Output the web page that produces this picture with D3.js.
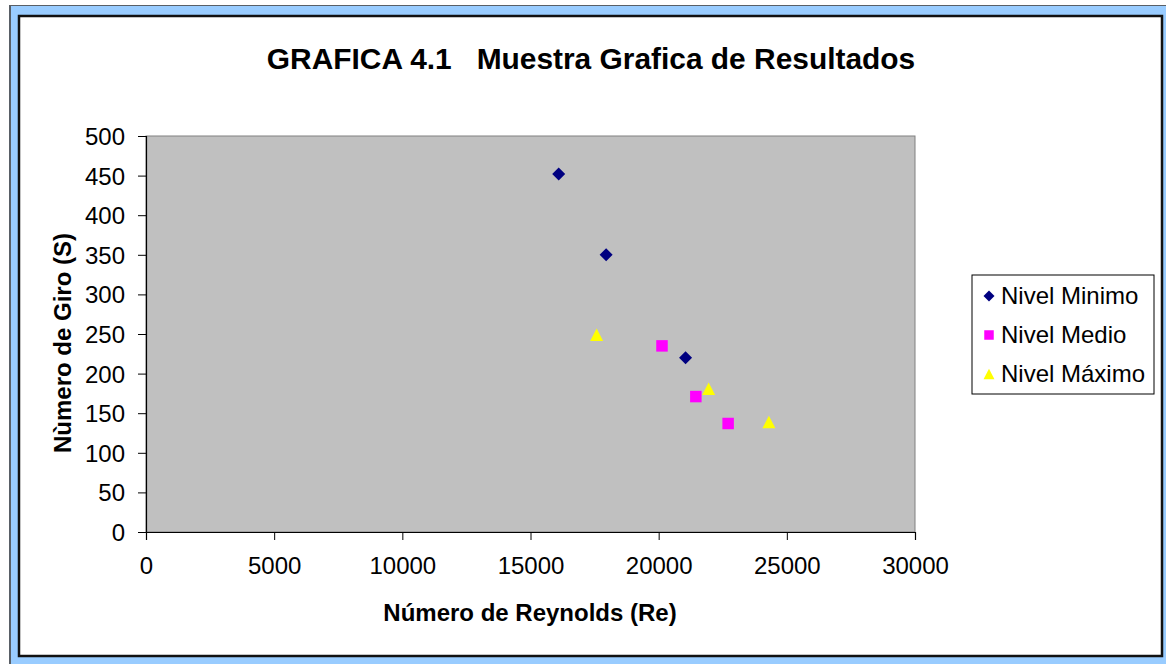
<!DOCTYPE html>
<html><head><meta charset="utf-8">
<script src="https://cdn.jsdelivr.net/npm/d3@7"></script>
<style>body{margin:0;background:#fff}svg{display:block}text{font-family:"Liberation Sans",Arial,sans-serif}</style>
</head><body>
<script>
const seriesNames = ["Nivel Minimo", "Nivel Medio", "Nivel Máximo"];
const minimoX = [16100, 17950, 21050];
const minimoY = [452, 350, 220];
const medioX = [20130, 21450, 22710];
const medioY = [235, 171, 137];
const maximoX = [17580, 21950, 24300];
const maximoY = [249, 181, 139];
const xTicks = [0, 5000, 10000, 15000, 20000, 25000, 30000];
const yTicks = [0, 50, 100, 150, 200, 250, 300, 350, 400, 450, 500];
const colors = ["#000080", "#ff00ff", "#ffff00"];

const W = 1166, H = 664;
const svg = d3.select("body").append("svg").attr("width", W).attr("height", H);

// frame
svg.append("rect").attr("x", 9).attr("y", 5).attr("width", W - 9).attr("height", H - 5).attr("fill", "#595f66");
svg.append("rect").attr("x", 11).attr("y", 6).attr("width", W - 11).attr("height", H - 6).attr("fill", "#99ccff");
svg.append("rect").attr("x", 19).attr("y", 16).attr("width", 1143).attr("height", 640)
  .attr("fill", "#fff").attr("stroke", "#111").attr("stroke-width", 2.5);

const m = {l: 146, t: 136, r: 915, b: 532};
const x = d3.scaleLinear().domain([0, 30000]).range([m.l, m.r]);
const y = d3.scaleLinear().domain([0, 500]).range([m.b, m.t]);

svg.append("rect").attr("x", m.l).attr("y", m.t).attr("width", m.r - m.l).attr("height", m.b - m.t)
  .attr("fill", "#c0c0c0").attr("stroke", "#808080").attr("stroke-width", 1);

const xAxis = svg.append("g").attr("transform", `translate(0,${m.b})`)
  .call(d3.axisBottom(x).tickValues(xTicks).tickSize(8).tickPadding(17).tickFormat(d3.format("d")));
const yAxis = svg.append("g").attr("transform", `translate(${m.l},0)`)
  .call(d3.axisLeft(y).tickValues(yTicks).tickSize(8).tickPadding(13).tickFormat(d3.format("d")));
[xAxis, yAxis].forEach(g => {
  g.select(".domain").attr("stroke", "#000").attr("stroke-width", 1.2);
  g.selectAll(".tick line").attr("stroke", "#000");
  g.selectAll(".tick text").attr("font-size", 24).attr("fill", "#000").attr("font-family", '"Liberation Sans",Arial,sans-serif');
});
yAxis.selectAll(".tick text").attr("dy", "0.35em");

const series = [
  {x: minimoX, y: minimoY},
  {x: medioX, y: medioY},
  {x: maximoX, y: maximoY}
];

function drawMarker(g, i, cx, cy, s) {
  if (i === 0) {
    g.append("path").attr("transform", `translate(${cx},${cy}) rotate(45)`)
      .attr("d", d3.symbol().type(d3.symbolSquare).size(s * s * 0.5)).attr("fill", colors[i]);
  } else if (i === 1) {
    g.append("path").attr("transform", `translate(${cx},${cy})`)
      .attr("d", d3.symbol().type(d3.symbolSquare).size((s - 1.5) * (s - 1.5))).attr("fill", colors[i]);
  } else {
    const h = s - 0.5;
    g.append("path").attr("transform", `translate(${cx},${cy})`)
      .attr("d", `M0,${-h / 2}L${h * 0.52},${h / 2}L${-h * 0.52},${h / 2}Z`).attr("fill", colors[i]);
  }
}

series.forEach((s, i) => {
  const g = svg.append("g");
  s.x.forEach((v, j) => drawMarker(g, i, x(v), y(s.y[j]), 13));
});

// title
svg.append("text").attr("x", 591).attr("y", 69).attr("text-anchor", "middle")
  .attr("font-size", 29.9).attr("font-weight", "bold").style("white-space", "pre")
  .text("GRAFICA 4.1   Muestra Grafica de Resultados");
svg.append("text").attr("x", 530).attr("y", 621).attr("text-anchor", "middle")
  .attr("font-size", 24).attr("font-weight", "bold").text("Número de Reynolds (Re)");
svg.append("text").attr("transform", "translate(71,343) rotate(-90)").attr("text-anchor", "middle")
  .attr("font-size", 24).attr("font-weight", "bold").text("Nùmero de Giro (S)");

// legend
const lg = svg.append("g");
lg.append("rect").attr("x", 972).attr("y", 275).attr("width", 182).attr("height", 119)
  .attr("fill", "#fff").attr("stroke", "#000").attr("stroke-width", 1);
seriesNames.forEach((n, i) => {
  const cy = 295 + i * 39;
  drawMarker(lg, i, 989, cy + 1, 11);
  lg.append("text").attr("x", 1001).attr("y", cy + 9).attr("font-size", 24).text(n);
});
</script>
</body></html>
